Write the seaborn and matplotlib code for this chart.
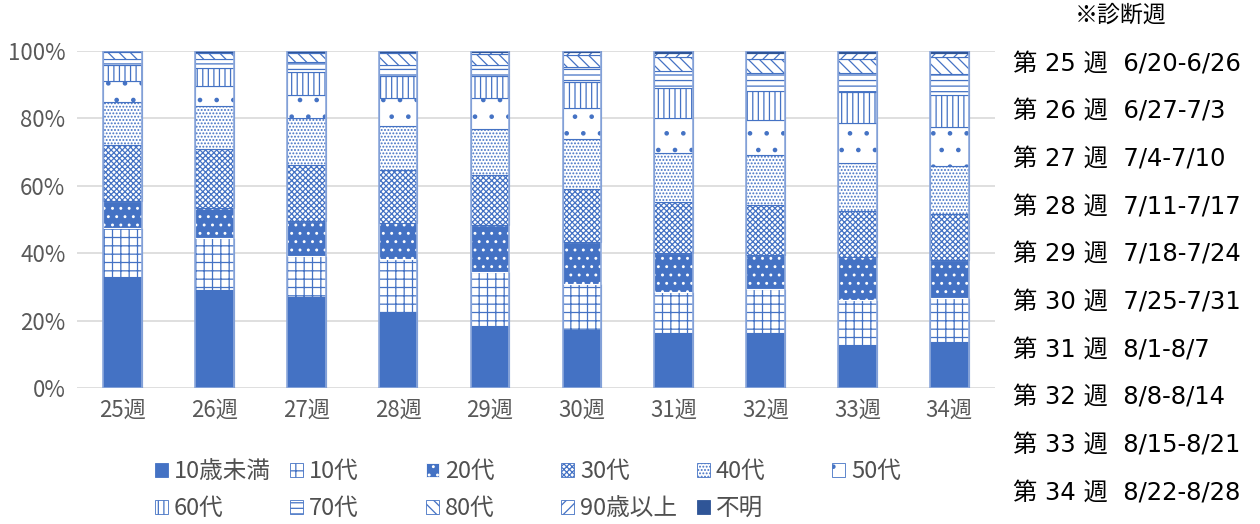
import matplotlib
matplotlib.use('Agg')
import matplotlib.pyplot as plt
from matplotlib.patches import Patch
import numpy as np
import seaborn as sns

weeks = ['25週', '26週', '27週', '28週', '29週', '30週', '31週', '32週', '33週', '34週']

age_groups = ['10歳未満', '10代', '20代', '30代', '40代', '50代',
              '60代', '70代', '80代', '90歳以上', '不明']

# share of each age group per week (%)
under10 = [33.0, 29.1, 26.9, 22.2, 18.4, 17.2, 16.2, 16.2, 12.8, 13.6]
teens = [14.6, 15.3, 12.3, 16.1, 16.1, 13.6, 12.2, 13.1, 13.3, 13.0]
twenties = [7.9, 8.9, 10.4, 10.8, 13.9, 12.6, 11.8, 10.2, 12.9, 11.4]
thirties = [16.6, 17.5, 16.6, 15.6, 14.8, 15.8, 15.1, 14.8, 13.6, 13.6]
forties = [12.9, 12.9, 13.8, 13.0, 13.6, 14.6, 14.6, 14.8, 14.3, 14.3]
fifties = [6.2, 5.9, 6.9, 8.4, 9.2, 9.4, 10.1, 10.4, 11.8, 11.6]
sixties = [4.6, 5.3, 7.0, 6.5, 6.6, 7.7, 8.9, 8.6, 9.2, 9.6]
seventies = [1.8, 2.7, 2.9, 3.2, 3.2, 4.4, 5.3, 5.3, 5.5, 6.0]
eighties = [2.0, 1.7, 2.5, 3.5, 3.3, 3.5, 3.9, 4.4, 4.4, 5.0]
over90 = [0.3, 0.5, 0.5, 0.5, 0.6, 0.9, 1.4, 1.7, 1.7, 1.4]
unknown = [0.1, 0.2, 0.2, 0.2, 0.3, 0.3, 0.5, 0.5, 0.5, 0.5]

week_notes = ['第 25 週  6/20-6/26', '第 26 週  6/27-7/3', '第 27 週  7/4-7/10',
              '第 28 週  7/11-7/17', '第 29 週  7/18-7/24', '第 30 週  7/25-7/31',
              '第 31 週  8/1-8/7', '第 32 週  8/8-8/14', '第 33 週  8/15-8/21',
              '第 34 週  8/22-8/28']

series = [under10, teens, twenties, thirties, forties, fifties,
          sixties, seventies, eighties, over90, unknown]

blue = '#4472C4'
# facecolor, hatch, hatch/edge colour
styles = [
    (blue, None, blue),
    ('white', '++', blue),
    (blue, '..', 'white'),
    ('white', 'xxxxxx', blue),
    ('white', '.....', blue),
    ('white', '.', blue),
    ('white', '|||', blue),
    ('white', '---', blue),
    ('white', '\\\\\\', blue),
    ('white', '///', blue),
    ('#2F5597', None, '#2F5597'),
]

sns.set_theme(style='white')
plt.rcParams['font.family'] = ['Noto Sans CJK JP', 'DejaVu Sans']
plt.rcParams['hatch.linewidth'] = 0.9

fig = plt.figure(figsize=(12.6, 5.24), dpi=100)
ax = fig.add_axes([0.0608, 0.2595, 0.729, 0.643])

bottom = np.zeros(len(weeks))
for vals, (fc, hatch, ec) in zip(series, styles):
    sns.barplot(x=weeks, y=vals, ax=ax, width=0.42, errorbar=None,
                color=fc, saturation=1, bottom=bottom.copy(),
                facecolor=fc, edgecolor=ec, hatch=hatch, linewidth=0.8)
    bottom += np.array(vals)

# light outline round each bar
sns.barplot(x=weeks, y=bottom, ax=ax, width=0.42, errorbar=None,
            fill=False, color='#8FAADC', saturation=1, linewidth=1.2)

ax.set_ylim(0, 100)
ax.set_xlim(-0.5, len(weeks) - 0.5)
ax.set_yticks(range(0, 101, 20))
ax.set_yticklabels([f'{v}%' for v in range(0, 101, 20)])
ax.grid(axis='y', color='#D9D9D9', linewidth=1.2)
ax.set_axisbelow(True)
for s in ax.spines.values():
    s.set_visible(False)
ax.tick_params(axis='both', length=0, labelsize=16, colors='#595959', pad=8)
ax.set_xlabel('')
ax.set_ylabel('')

handles = [Patch(facecolor=fc, hatch=h, edgecolor=ec, linewidth=0.6)
           for fc, h, ec in styles]

# legend: 6 evenly spaced columns, filled row by row
ncol = 6
for c in range(ncol):
    idx = [i for i in range(len(age_groups)) if i % ncol == c]
    fig.legend([handles[i] for i in idx], [age_groups[i] for i in idx],
               loc='upper left', bbox_to_anchor=((155 + c * 135.4) / 1260, 0.122),
               frameon=False, fontsize=17, handlelength=0.55, handleheight=0.55,
               handletextpad=0.25, labelspacing=0.6, borderpad=0,
               labelcolor='#505050', borderaxespad=0)

fig.text(1121 / 1260, 1 - 15 / 524, '※診断週', ha='center', va='center',
         fontsize=16.5, color='black')
for i, note in enumerate(week_notes):
    fig.text(1013 / 1260, 1 - (64 + i * 47.7) / 524, note, ha='left',
             va='center', fontsize=17.5, color='black',
             family=['DejaVu Sans', 'Noto Sans CJK JP'])

fig.savefig('out.png', dpi=100)
